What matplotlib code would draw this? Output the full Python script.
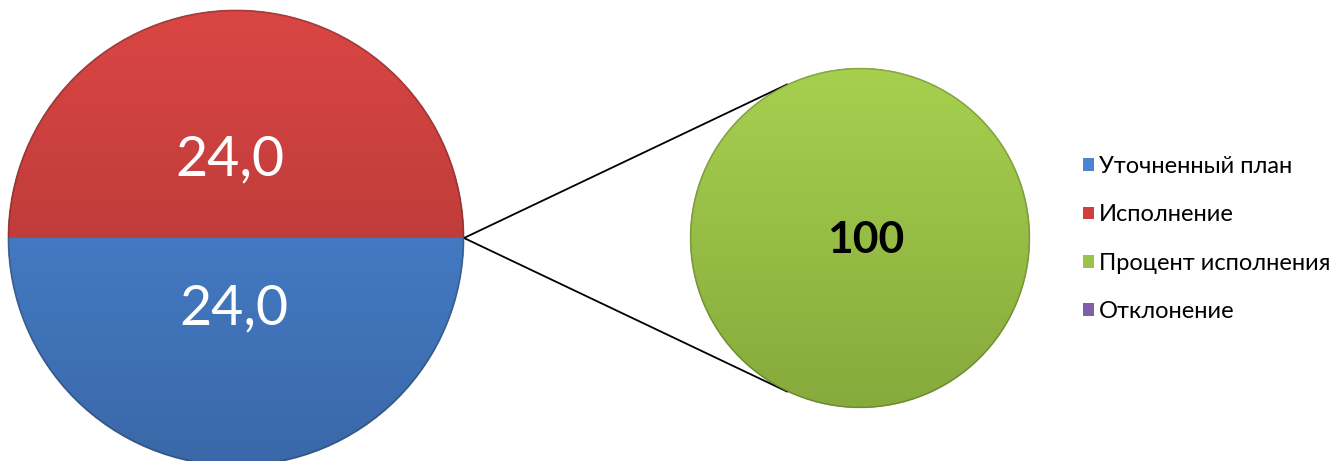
import numpy as np
import matplotlib
matplotlib.use('Agg')
import matplotlib.pyplot as plt
from matplotlib.colors import LinearSegmentedColormap
from matplotlib.patches import Patch

plt.rcParams['font.family'] = ['Lato', 'DejaVu Sans']

# данные
main_labels = ['Уточненный план', 'Исполнение']
main_values = [24.0, 24.0]
sub_labels = ['Процент исполнения', 'Отклонение']
sub_values = [100, 0]
legend_labels = main_labels + sub_labels

colors = ['#4A84D2', '#CF3F3D', '#9BC34A', '#7F5FA8']
# верх/низ градиента для каждого цвета
grad = {
    '#4A84D2': ('#4C8BDB', '#3A68A8'),
    '#CF3F3D': ('#DA4644', '#A63331'),
    '#9BC34A': ('#A7D04F', '#86AA3C'),
    '#7F5FA8': ('#8A68B6', '#694C8E'),
}

W, H = 1341, 461
fig = plt.figure(figsize=(W / 100, H / 100), dpi=100)
ax = fig.add_axes([0, 0, 1, 1])

c1, r1 = (236, H - 238), 228
c2, r2 = (860, H - 238), 170


def shade(wedges, cols, center, r):
    for w, col in zip(wedges, cols):
        top, bot = grad[col]
        cmap = LinearSegmentedColormap.from_list('g', [bot, top])
        g = np.linspace(0, 1, 256).reshape(-1, 1)
        im = ax.imshow(g, cmap=cmap, origin='lower', aspect='auto',
                       extent=[center[0] - r, center[0] + r, center[1] - r, center[1] + r],
                       zorder=2)
        im.set_clip_path(w)


w1, _ = ax.pie(main_values, colors=colors[:2], startangle=180, counterclock=True,
               center=c1, radius=r1, frame=True,
               wedgeprops=dict(linewidth=0.8, edgecolor='#00000040'))
shade(w1, colors[:2], c1, r1)

w2, _ = ax.pie(sub_values, colors=colors[2:], startangle=0, counterclock=True,
               center=c2, radius=r2, frame=True,
               wedgeprops=dict(linewidth=0))
shade(w2[:1], colors[2:3], c2, r2)

# тёмная кромка
for c, r in ((c1, r1), (c2, r2)):
    ax.add_patch(plt.Circle(c, r - 0.5, fill=False, edgecolor='#00000030', lw=1.2, zorder=3))

ax.set_xlim(0, W)
ax.set_ylim(0, H)
ax.set_aspect('equal')
ax.axis('off')

# подписи
ax.text(c1[0] - 6, H - 160, f'{main_values[1]:.1f}'.replace('.', ','), color='white',
        fontsize=40, ha='center', va='center', zorder=5)
ax.text(c1[0] - 2, H - 309, f'{main_values[0]:.1f}'.replace('.', ','), color='white',
        fontsize=40, ha='center', va='center', zorder=5)
ax.text(c2[0] + 6, H - 240, f'{sub_values[0]}', color='black', fontweight='bold',
        fontsize=32, ha='center', va='center', zorder=5)

# соединительные линии (касательные)
p = np.array([c1[0] + r1, c1[1]])
d = np.hypot(c2[0] - p[0], c2[1] - p[1])
th = np.arccos(r2 / d)
for s in (1, -1):
    ang = np.pi - s * th
    q = (c2[0] + r2 * np.cos(ang), c2[1] + r2 * np.sin(ang))
    ax.plot([p[0], q[0]], [p[1], q[1]], color='black', lw=1.3, zorder=1)

handles = [Patch(facecolor=c, edgecolor='none') for c in colors]
ax.legend(handles, legend_labels, loc='center left', bbox_to_anchor=(1062 / W, (H - 239) / H),
          frameon=False, fontsize=17, handlelength=0.45, handleheight=0.45,
          handletextpad=0.2, labelspacing=1.16)

fig.savefig('out.png', dpi=100)
